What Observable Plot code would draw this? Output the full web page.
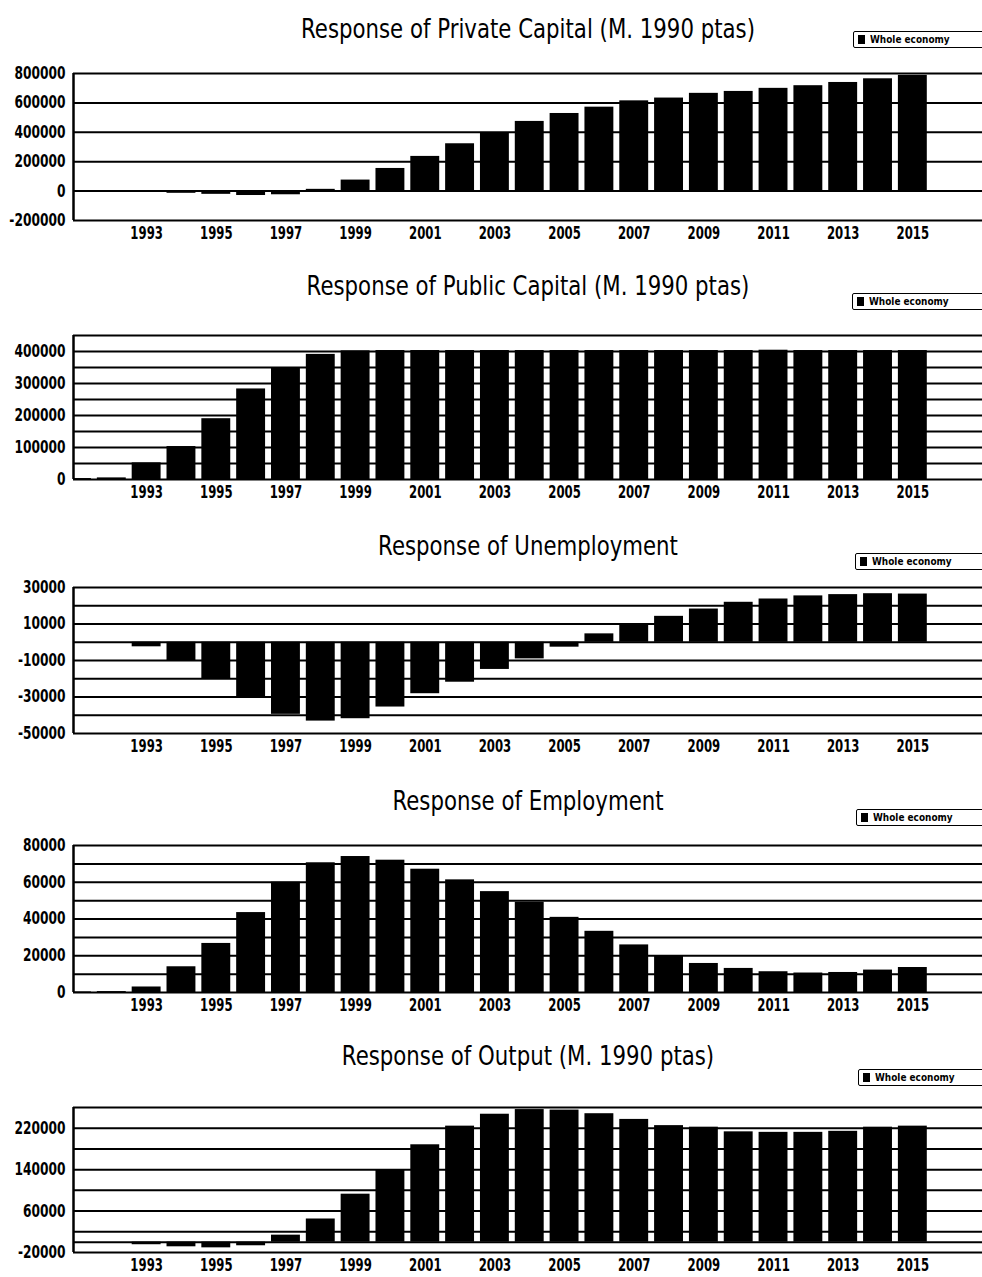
<!DOCTYPE html>
<html>
<head>
<meta charset="utf-8">
<script src="https://cdn.jsdelivr.net/npm/d3@7"></script>
<script src="https://cdn.jsdelivr.net/npm/@observablehq/plot@0.6"></script>
<style>
  html, body { margin: 0; padding: 0; background: #fff; }
  #root { position: relative; width: 982px; height: 1277px; overflow: hidden; background: #fff; }
  .title { position: absolute; white-space: nowrap; font-family: "DejaVu Sans", sans-serif; font-size: 27px; color: #000; transform-origin: center center; }
  .legend { position: absolute; width: 150px; height: 15px; border: 1.5px solid #000; border-radius: 2px; background: #fff; }
  .legend .sw { position: absolute; left: 4px; top: 3px; width: 7px; height: 9px; background: #000; }
  .legend .lt { position: absolute; left: 16px; top: 0px; font-family: "DejaVu Sans", sans-serif; font-weight: bold; font-size: 10.5px; line-height: 15px; transform: scaleX(0.85); transform-origin: left center; white-space: nowrap; }
  .panel { position: absolute; left: 0; }
</style>
</head>
<body>
<div id="root"></div>
<script>
// ---------- data ----------
const years = [1991, 1992, 1993, 1994, 1995, 1996, 1997, 1998, 1999, 2000, 2001, 2002, 2003,
               2004, 2005, 2006, 2007, 2008, 2009, 2010, 2011, 2012, 2013, 2014, 2015];

const privateCapital = [0, 0, -3000, -15000, -22000, -30000, -25000, 12000, 75000, 154000, 236000, 322000, 396000,
                        474000, 528000, 571000, 614000, 633000, 665000, 678000, 699000, 717000, 739000, 764000, 787000];

const publicCapital = [3000, 5000, 52000, 103000, 190000, 283000, 350000, 391000, 402000, 403000, 403000, 403000, 403000,
                       403000, 403000, 403000, 403000, 403000, 403000, 403000, 404000, 403000, 403000, 403000, 403000];

const unemployment = [0, 0, -2500, -10400, -20000, -30000, -39500, -43200, -41900, -35500, -28200, -21900, -14900,
                      -9100, -2700, 4600, 10000, 14200, 18200, 21900, 23700, 25400, 26100, 26600, 26400];

const employment = [300, 500, 3000, 14000, 26700, 43500, 60000, 70600, 74000, 72000, 67100, 61300, 54900,
                    49100, 40900, 33300, 25900, 19600, 15800, 13100, 11300, 10600, 10900, 12200, 13600];

const output = [0, 0, -5000, -9000, -11000, -7000, 13500, 44700, 92600, 140000, 188000, 224000, 247000,
                256000, 255000, 248000, 237000, 225000, 222000, 213000, 212000, 212000, 214000, 222000, 224000];

const xTickYears = [1993, 1995, 1997, 1999, 2001, 2003, 2005, 2007, 2009, 2011, 2013, 2015];

const titles = [
  "Response of Private Capital (M. 1990 ptas)",
  "Response of Public Capital (M. 1990 ptas)",
  "Response of Unemployment",
  "Response of Employment",
  "Response of Output (M. 1990 ptas)"
];
const legendLabel = "Whole economy";

// y tick labels and grid lines per panel
const yLabels1 = [-200000, 0, 200000, 400000, 600000, 800000];
const yGrid1   = [-200000, 0, 200000, 400000, 600000, 800000];
const yLabels2 = [0, 100000, 200000, 300000, 400000];
const yGrid2   = [0, 50000, 100000, 150000, 200000, 250000, 300000, 350000, 400000, 450000];
const yLabels3 = [-50000, -30000, -10000, 10000, 30000];
const yGrid3   = [-50000, -40000, -30000, -20000, -10000, 0, 10000, 20000, 30000];
const yLabels4 = [0, 20000, 40000, 60000, 80000];
const yGrid4   = [0, 10000, 20000, 30000, 40000, 50000, 60000, 70000, 80000];
const yLabels5 = [-20000, 60000, 140000, 220000];
const yGrid5   = [-20000, 0, 20000, 60000, 100000, 140000, 180000, 220000, 260000];

// ---------- layout ----------
const panels = [
  {series: privateCapital, domain: [-200000, 800000], labels: yLabels1, grid: yGrid1, top: 73,  bottom: 220, titleY: 28,   legendTop: 31,   legendLeft: 853},
  {series: publicCapital,  domain: [0, 450000],       labels: yLabels2, grid: yGrid2, top: 335, bottom: 479, titleY: 285,  legendTop: 293,  legendLeft: 852},
  {series: unemployment,   domain: [-50000, 30000],   labels: yLabels3, grid: yGrid3, top: 587, bottom: 733, titleY: 545,  legendTop: 553,  legendLeft: 855},
  {series: employment,     domain: [0, 80000],        labels: yLabels4, grid: yGrid4, top: 845, bottom: 992, titleY: 800,  legendTop: 809,  legendLeft: 856},
  {series: output,         domain: [-20000, 260000],  labels: yLabels5, grid: yGrid5, top: 1107, bottom: 1252, titleY: 1055, legendTop: 1069, legendLeft: 858}
];

const root = document.getElementById("root");
const xDomain = [1990.9, 2017.0];
const mTop = 4, mBottom = 24;

// horizontally condense tick labels around their anchor point
function condense(svg, sel, s) {
  svg.querySelectorAll(sel).forEach(el => {
    const t = el.getAttribute("transform") || "";
    let tx = 0, ty = 0;
    const xa = el.getAttribute("x"), ya = el.getAttribute("y");
    if (xa != null && /^-?[\d.]+$/.test(xa.trim())) { tx = +xa; el.removeAttribute("x"); }
    if (ya != null && /^-?[\d.]+$/.test(ya.trim())) { ty = +ya; el.removeAttribute("y"); }
    el.setAttribute("transform", `${t} translate(${tx},${ty}) scale(${s},1)`);
  });
}

const titleEls = [];
panels.forEach((p, i) => {
  const data = years.map((yr, j) => ({year: yr, value: p.series[j]}));
  const h = (p.bottom - p.top) + mTop + mBottom;
  const chart = Plot.plot({
    width: 982,
    height: h,
    marginLeft: 73,
    marginRight: 0,
    marginTop: mTop,
    marginBottom: mBottom,
    style: {fontFamily: "DejaVu Sans, sans-serif", color: "#000", background: "#fff", overflow: "visible"},
    x: {type: "linear", domain: xDomain, axis: null},
    y: {domain: p.domain, axis: null},
    marks: [
      Plot.ruleY(p.grid, {stroke: "#000", strokeWidth: 2}),
      Plot.ruleX([xDomain[0]], {stroke: "#000", strokeWidth: 2.5}),
      Plot.rectY(data, {x1: d => d.year - 0.415, x2: d => d.year + 0.415, y1: 0, y2: "value", fill: "#000", clip: true}),
      Plot.axisX({ticks: xTickYears, tickFormat: d => String(d), tickSize: 0, tickPadding: 6, fontSize: 18, fontWeight: "bold", label: null}),
      Plot.axisY({ticks: p.labels, tickFormat: d => String(d), tickSize: 0, tickPadding: 8, fontSize: 17, fontWeight: "bold", label: null})
    ]
  });
  const wrap = document.createElement("div");
  wrap.className = "panel";
  wrap.style.top = (p.top - mTop) + "px";
  wrap.appendChild(chart);
  root.appendChild(wrap);
  condense(chart, 'g[aria-label="x-axis tick label"] text', 0.65);
  condense(chart, 'g[aria-label="y-axis tick label"] text', 0.72);

  const t = document.createElement("div");
  t.className = "title";
  t.textContent = titles[i];
  t.style.left = "528px";
  t.style.top = p.titleY + "px";
  root.appendChild(t);
  titleEls.push(t);

  const lg = document.createElement("div");
  lg.className = "legend";
  lg.style.left = p.legendLeft + "px";
  lg.style.top = p.legendTop + "px";
  lg.innerHTML = '<div class="sw"></div><div class="lt"></div>';
  lg.querySelector(".lt").textContent = legendLabel;
  root.appendChild(lg);
});

// condense titles to match the narrow lettering of the original
const w0 = titleEls[0].getBoundingClientRect().width;
const s = 454 / w0;
titleEls.forEach(t => { t.style.transform = `translate(-50%, -50%) scaleX(${s})`; });
</script>
</body>
</html>
